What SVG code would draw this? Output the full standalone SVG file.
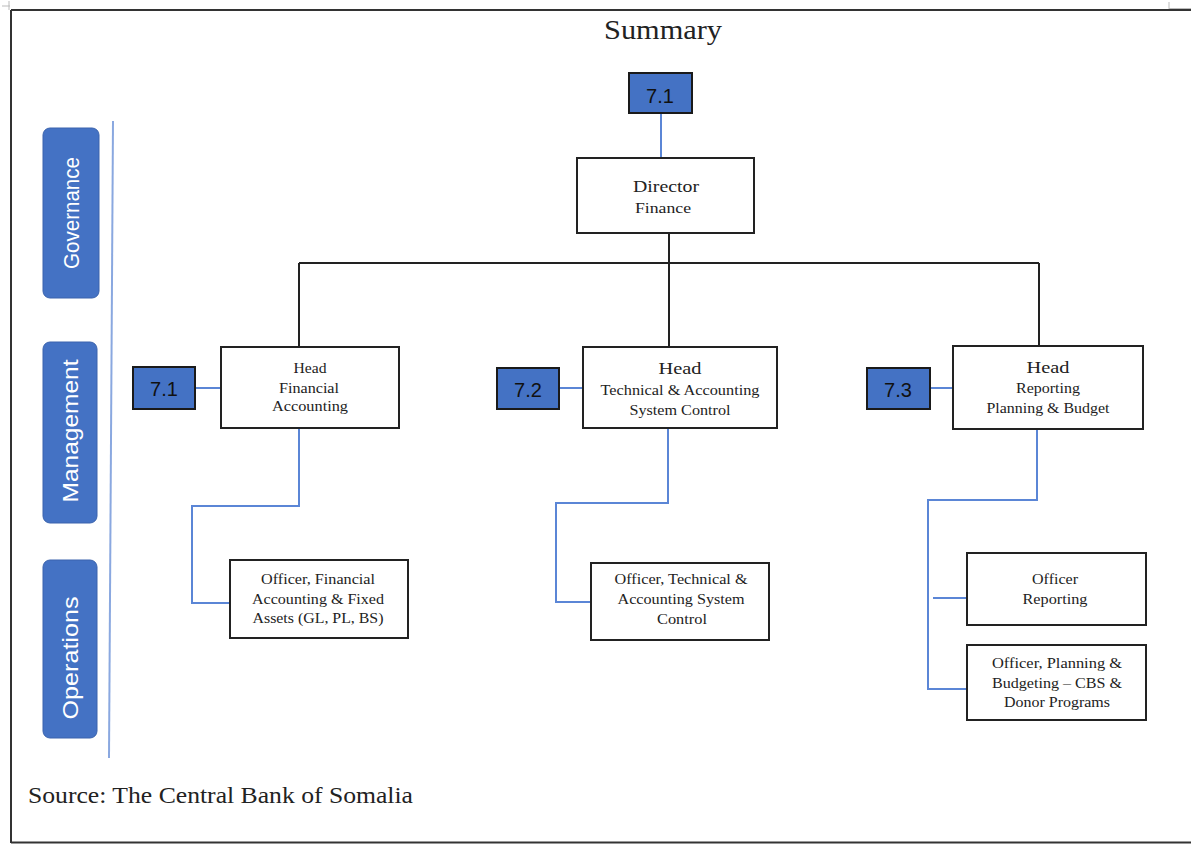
<svg xmlns="http://www.w3.org/2000/svg" width="1191" height="844" viewBox="0 0 1191 844">
  <style>
    .frame { stroke: #333; stroke-width: 2; fill: none; }
    .tick { stroke: #bbb; stroke-width: 1; fill: none; }
    .box { fill: #fff; stroke: #222; stroke-width: 2; }
    .num { fill: #4472C4; stroke: #1a1a1a; stroke-width: 2; }
    .band { fill: #4472C4; stroke: #3a63ad; stroke-width: 1; }
    .numtxt { font-family: "Liberation Sans", Arial, sans-serif; font-size: 20px; fill: #111; text-anchor: middle; }
    .bandtxt { font-family: "Liberation Sans", Arial, sans-serif; font-size: 22px; fill: #fff; text-anchor: middle; }
    .t { font-family: "Liberation Serif", "Times New Roman", serif; fill: #222; text-anchor: middle; }
    .s14 { font-size: 14px; }
    .s15 { font-size: 15px; }
    .s17 { font-size: 17px; }
    .blue { stroke: #5b86d6; stroke-width: 2; fill: none; }
    .black { stroke: #222; stroke-width: 2; fill: none; }
  </style>

  <rect width="1191" height="844" fill="#fff"/>

  <!-- page frame -->
  <path class="frame" d="M11 10 H1191 M11 10 V843 M11 842.5 H1191"/>
  <path class="tick" d="M2 6 H10 M9 1 V10 M1169 2 V9 M1169 8.5 H1191"/>

  <!-- title -->
  <text class="t" x="663" y="39" style="font-size:27px" textLength="118" lengthAdjust="spacingAndGlyphs">Summary</text>

  <!-- swim-lane labels -->
  <line x1="113" y1="121" x2="109" y2="758" stroke="#8aa8e0" stroke-width="2"/>
  <g id="lane-governance">
    <rect class="band" x="43" y="128" width="56" height="170" rx="7"/>
    <text class="bandtxt" x="71" y="221" transform="rotate(-90 71 213)" textLength="112" lengthAdjust="spacingAndGlyphs">Governance</text>
  </g>
  <g id="lane-management">
    <rect class="band" x="43" y="342" width="54" height="181" rx="7"/>
    <text class="bandtxt" x="70" y="439" transform="rotate(-90 70 431)" textLength="143" lengthAdjust="spacingAndGlyphs">Management</text>
  </g>
  <g id="lane-operations">
    <rect class="band" x="43" y="560" width="54" height="178" rx="7"/>
    <text class="bandtxt" x="70" y="666" transform="rotate(-90 70 658)" textLength="123" lengthAdjust="spacingAndGlyphs">Operations</text>
  </g>

  <!-- connectors -->
  <g id="connectors">
    <path class="blue" d="M661 113 V158"/>
    <path class="black" d="M669 233 V263 M299 263 H1039 M299 263 V347 M669 263 V347 M1039 263 V346"/>
    <path class="blue" d="M195 388 H221"/>
    <path class="blue" d="M559 388 H583"/>
    <path class="blue" d="M930 388 H953"/>
    <path class="blue" d="M299 428 V506 H192 V603 H230"/>
    <path class="blue" d="M668 428 V503 H556 V602 H591"/>
    <path class="blue" d="M1037 429 V500 H928 V689 H967 M933 598 H967"/>
  </g>

  <!-- top tag -->
  <g id="tag-top">
    <rect class="num" x="629" y="73" width="63" height="40"/>
    <text class="numtxt" x="660" y="103">7.1</text>
  </g>

  <g id="director">
    <rect class="box" x="577" y="158" width="177" height="75"/>
    <text class="t s17" x="666" y="192" textLength="66" lengthAdjust="spacingAndGlyphs">Director</text>
    <text class="t s14" x="663" y="213" textLength="56" lengthAdjust="spacingAndGlyphs">Finance</text>
  </g>

  <g id="tag-71">
    <rect class="num" x="133" y="367" width="62" height="42"/>
    <text class="numtxt" x="164" y="396">7.1</text>
  </g>
  <g id="head-financial-accounting">
    <rect class="box" x="221" y="347" width="178" height="81"/>
    <text class="t s15" x="310" y="373" textLength="33" lengthAdjust="spacingAndGlyphs">Head</text>
    <text class="t s15" x="309" y="393" textLength="60" lengthAdjust="spacingAndGlyphs">Financial</text>
    <text class="t s15" x="310" y="411" textLength="76" lengthAdjust="spacingAndGlyphs">Accounting</text>
  </g>

  <g id="tag-72">
    <rect class="num" x="497" y="368" width="62" height="41"/>
    <text class="numtxt" x="528" y="397">7.2</text>
  </g>
  <g id="head-technical">
    <rect class="box" x="583" y="347" width="194" height="81"/>
    <text class="t s17" x="680" y="374" textLength="43" lengthAdjust="spacingAndGlyphs">Head</text>
    <text class="t s15" x="680" y="395" textLength="159" lengthAdjust="spacingAndGlyphs">Technical &amp; Accounting</text>
    <text class="t s15" x="680" y="415" textLength="101" lengthAdjust="spacingAndGlyphs">System Control</text>
  </g>

  <g id="tag-73">
    <rect class="num" x="867" y="368" width="63" height="41"/>
    <text class="numtxt" x="898" y="397">7.3</text>
  </g>
  <g id="head-reporting">
    <rect class="box" x="953" y="346" width="190" height="83"/>
    <text class="t s17" x="1048" y="373" textLength="43" lengthAdjust="spacingAndGlyphs">Head</text>
    <text class="t s15" x="1048" y="393" textLength="64" lengthAdjust="spacingAndGlyphs">Reporting</text>
    <text class="t s15" x="1048" y="413" textLength="123" lengthAdjust="spacingAndGlyphs">Planning &amp; Budget</text>
  </g>

  <g id="officer-financial">
    <rect class="box" x="230" y="560" width="178" height="78"/>
    <text class="t s15" x="318" y="584" textLength="114" lengthAdjust="spacingAndGlyphs">Officer, Financial</text>
    <text class="t s15" x="318" y="604" textLength="132" lengthAdjust="spacingAndGlyphs">Accounting &amp; Fixed</text>
    <text class="t s15" x="318" y="623" textLength="131" lengthAdjust="spacingAndGlyphs">Assets (GL, PL, BS)</text>
  </g>

  <g id="officer-technical">
    <rect class="box" x="591" y="563" width="178" height="77"/>
    <text class="t s15" x="681" y="584" textLength="133" lengthAdjust="spacingAndGlyphs">Officer, Technical &amp;</text>
    <text class="t s15" x="681" y="604" textLength="127" lengthAdjust="spacingAndGlyphs">Accounting System</text>
    <text class="t s15" x="682" y="624" textLength="50" lengthAdjust="spacingAndGlyphs">Control</text>
  </g>

  <g id="officer-reporting">
    <rect class="box" x="967" y="553" width="179" height="72"/>
    <text class="t s15" x="1055" y="584" textLength="46" lengthAdjust="spacingAndGlyphs">Officer</text>
    <text class="t s15" x="1055" y="604" textLength="65" lengthAdjust="spacingAndGlyphs">Reporting</text>
  </g>

  <g id="officer-planning">
    <rect class="box" x="967" y="645" width="179" height="75"/>
    <text class="t s15" x="1057" y="668" textLength="130" lengthAdjust="spacingAndGlyphs">Officer, Planning &amp;</text>
    <text class="t s15" x="1057" y="688" textLength="130" lengthAdjust="spacingAndGlyphs">Budgeting – CBS &amp;</text>
    <text class="t s15" x="1057" y="707" textLength="106" lengthAdjust="spacingAndGlyphs">Donor Programs</text>
  </g>

  <!-- source note -->
  <text x="28" y="803" textLength="385" lengthAdjust="spacingAndGlyphs" style="font-family:'Liberation Serif','Times New Roman',serif;font-size:24px;fill:#222">Source: The Central Bank of Somalia</text>
</svg>
